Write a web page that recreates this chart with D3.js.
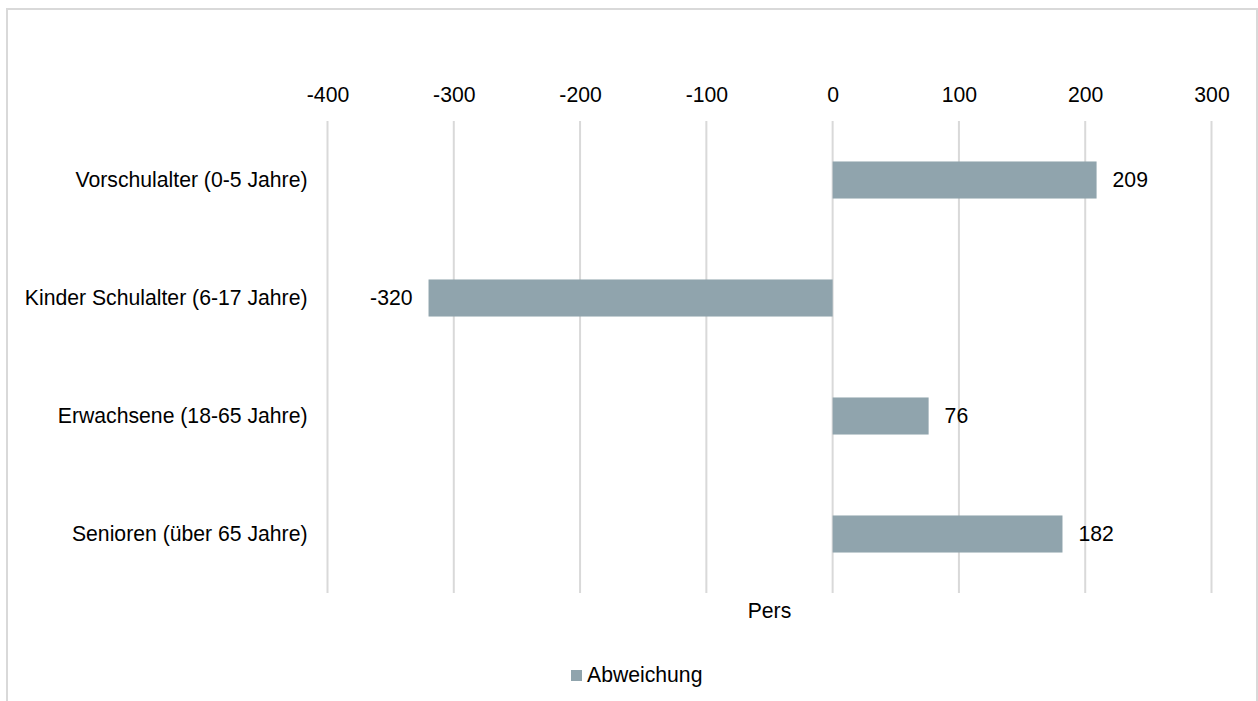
<!DOCTYPE html>
<html><head><meta charset="utf-8">
<script src="https://cdn.jsdelivr.net/npm/d3@7"></script>
<style>
html,body{margin:0;padding:0;background:#fff;overflow:hidden;}
text{font-family:Arial,"Liberation Sans",sans-serif;fill:#000;}
</style></head>
<body>
<svg id="chart" width="1258" height="701" style="display:block"></svg>
<script>
const categories = ["Vorschulalter (0-5 Jahre)", "Kinder Schulalter (6-17 Jahre)", "Erwachsene (18-65 Jahre)", "Senioren (über 65 Jahre)"];
const values = [209, -320, 76, 182];
const tickValues = [-400, -300, -200, -100, 0, 100, 200, 300];
const seriesName = "Abweichung";
const axisTitle = "Pers";

(function () {
const svg = d3.select("#chart");
const fs = 21.2;
const barColor = "#90a4ad";
const gridColor = "#d9d9d9";

svg.append("rect").attr("x", 7).attr("y", 9).attr("width", 1250).attr("height", 720)
  .attr("fill", "none").attr("stroke", gridColor).attr("stroke-width", 2);

const pLeft = 327.5, pRight = 1211.5, pTop = 121, pBottom = 593;
const x = d3.scaleLinear().domain([-400, 300]).range([pLeft, pRight]);
const y = d3.scaleBand().domain(categories).range([pTop, pBottom]).paddingInner(0.686).paddingOuter(0.343);

// gridlines
svg.append("g").selectAll("line").data(tickValues).join("line")
  .attr("x1", d => x(d)).attr("x2", d => x(d))
  .attr("y1", pTop).attr("y2", pBottom)
  .attr("stroke", gridColor).attr("stroke-width", 2);

// top axis labels
const axis = d3.axisTop(x).tickValues(tickValues).tickSize(0).tickPadding(0).tickFormat(d => String(d));
const ga = svg.append("g").attr("transform", "translate(0,102)").call(axis);
ga.select(".domain").remove();
ga.selectAll("text").attr("font-size", fs).attr("fill", "#000").attr("dy", 0)
  .style("font-family", 'Arial,"Liberation Sans",sans-serif');

// category labels
const gy = svg.append("g").attr("transform", `translate(${pLeft - 20},0)`)
  .call(d3.axisLeft(y).tickSize(0).tickPadding(0));
gy.select(".domain").remove();
gy.selectAll("text").attr("font-size", fs).attr("fill", "#000")
  .style("font-family", 'Arial,"Liberation Sans",sans-serif');

// bars
const data = categories.map((c, i) => ({c, v: values[i]}));
svg.append("g").selectAll("rect").data(data).join("rect")
  .attr("x", d => Math.min(x(0), x(d.v)))
  .attr("width", d => Math.abs(x(d.v) - x(0)))
  .attr("y", d => y(d.c))
  .attr("height", y.bandwidth())
  .attr("fill", barColor);

// value labels
svg.append("g").selectAll("text").data(data).join("text")
  .attr("x", d => d.v >= 0 ? x(d.v) + 16 : x(d.v) - 16)
  .attr("y", d => y(d.c) + y.bandwidth() / 2)
  .attr("dy", "0.35em")
  .attr("text-anchor", d => d.v >= 0 ? "start" : "end")
  .attr("font-size", fs)
  .text(d => String(d.v));

// axis title
svg.append("text").attr("x", (pLeft + pRight) / 2).attr("y", 618)
  .attr("text-anchor", "middle").attr("font-size", fs).text(axisTitle);

// legend
const lg = svg.append("g");
lg.append("rect").attr("x", 571).attr("y", 670).attr("width", 11).attr("height", 11).attr("fill", barColor);
lg.append("text").attr("x", 587).attr("y", 682).attr("font-size", fs).text(seriesName);
})();
</script>
</body></html>
